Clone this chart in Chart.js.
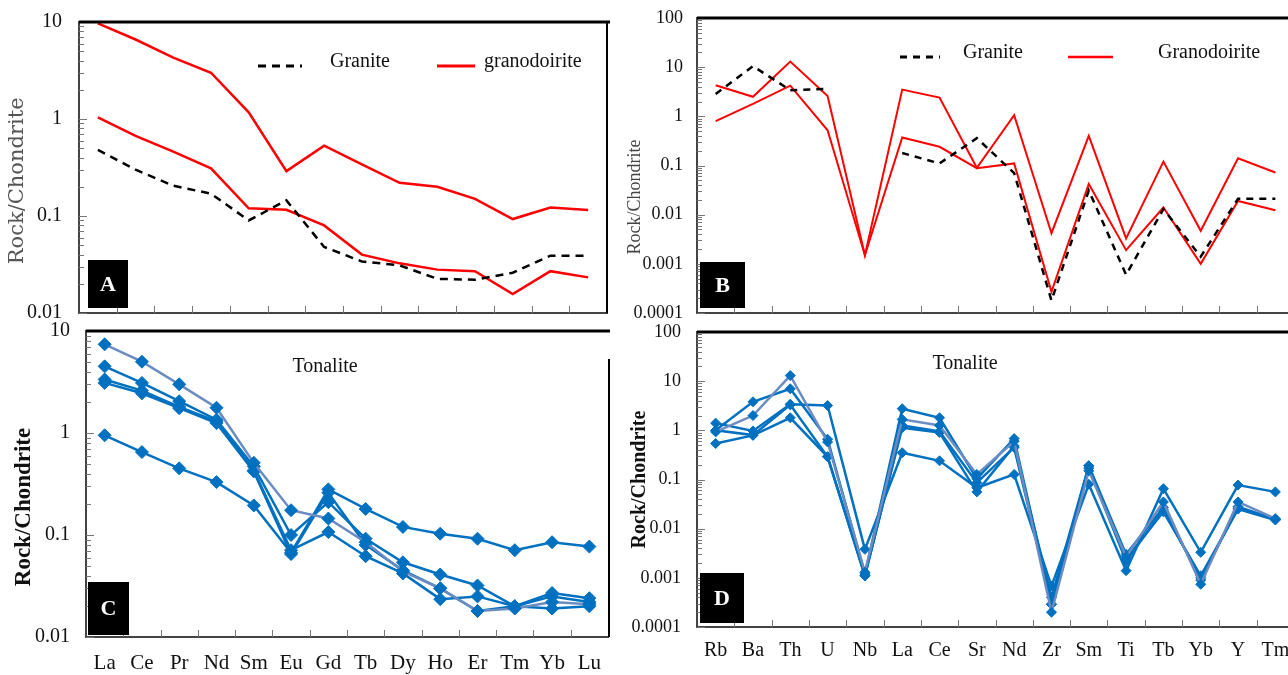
<!DOCTYPE html>
<html>
<head>
<meta charset="utf-8">
<script src="https://cdn.jsdelivr.net/npm/chart.js@4.4.1/dist/chart.umd.min.js"></script>
<style>
  html, body { margin: 0; padding: 0; background: #fff; overflow: hidden; }
  body { width: 1288px; height: 675px; position: relative; }
  .panel { position: absolute; }
</style>
</head>
<body>
<div class="panel" style="left:0;top:0"><canvas id="chartA" width="620" height="330"></canvas></div>
<div class="panel" style="left:620px;top:0"><canvas id="chartB" width="680" height="330"></canvas></div>
<div class="panel" style="left:0;top:320px"><canvas id="chartC" width="620" height="355"></canvas></div>
<div class="panel" style="left:620px;top:320px"><canvas id="chartD" width="680" height="355"></canvas></div>
<script>
// categories
const reeLabels = ['La', 'Ce', 'Pr', 'Nd', 'Sm', 'Eu', 'Gd', 'Tb', 'Dy', 'Ho', 'Er', 'Tm', 'Yb', 'Lu'];
const spiderLabels = ['Rb', 'Ba', 'Th', 'U', 'Nb', 'La', 'Ce', 'Sr', 'Nd', 'Zr', 'Sm', 'Ti', 'Tb', 'Yb', 'Y', 'Tm'];

// tick labels
const yTicksREE = [0.01, 0.1, 1, 10];
const yTicksSpider = [0.0001, 0.001, 0.01, 0.1, 1, 10, 100];

// panel A - granite / granodiorite REE
const graniteA = [0.48, 0.30, 0.205, 0.17, 0.09, 0.145, 0.048, 0.034, 0.031, 0.0225, 0.022, 0.026, 0.039, 0.039];
const granodioriteA1 = [9.7, 6.6, 4.3, 3.0, 1.17, 0.29, 0.53, 0.34, 0.22, 0.20, 0.15, 0.093, 0.122, 0.115];
const granodioriteA2 = [1.04, 0.67, 0.46, 0.31, 0.12, 0.116, 0.08, 0.04, 0.0325, 0.028, 0.027, 0.0157, 0.027, 0.0233];

// panel B - granite / granodiorite spider
const graniteB = [2.85, 10.5, 3.4, 3.6, null, 0.18, 0.11, 0.36, 0.07, 0.00018, 0.031, 0.0006, 0.013, 0.0014, 0.021, 0.021];
const granodioriteB1 = [4.3, 2.5, 13, 2.6, 0.0015, 3.5, 2.4, 0.09, 1.05, 0.0042, 0.40, 0.0033, 0.12, 0.0047, 0.14, 0.072];
const granodioriteB2 = [0.8, 1.8, 4.2, 0.52, 0.0015, 0.37, 0.24, 0.088, 0.11, 0.00027, 0.042, 0.0019, 0.014, 0.001, 0.019, 0.0123];

// panel C - tonalite REE
const tonaliteC1 = [7.4, 5.0, 3.0, 1.77, 0.51, 0.175, 0.145, 0.085, 0.044, 0.03, 0.018, 0.019, 0.022, 0.021];
const tonaliteC2 = [4.5, 3.1, 2.05, 1.35, 0.47, 0.1, 0.21, 0.092, 0.054, 0.041, 0.032, 0.02, 0.027, 0.024];
const tonaliteC3 = [3.35, 2.6, 1.8, 1.3, 0.43, 0.071, 0.107, 0.062, 0.042, 0.0235, 0.025, 0.02, 0.019, 0.02];
const tonaliteC4 = [3.1, 2.45, 1.75, 1.25, 0.42, 0.065, 0.26, 0.08, 0.045, 0.03, 0.018, 0.02, 0.025, 0.022];
const tonaliteC5 = [0.95, 0.65, 0.45, 0.33, 0.195, 0.067, 0.28, 0.18, 0.12, 0.103, 0.092, 0.071, 0.085, 0.077];

// panel D - tonalite spider
const tonaliteD1 = [0.93, 2.0, 13, 0.58, 0.0013, 1.67, 1.26, 0.127, 0.6, 0.0002, 0.15, 0.0027, 0.035, 0.00074, 0.035, 0.016];
const tonaliteD2 = [1.0, 3.8, 7.0, 0.66, 0.0012, 2.75, 1.8, 0.104, 0.68, 0.00029, 0.19, 0.003, 0.027, 0.0009, 0.028, 0.0155];
const tonaliteD3 = [1.4, 0.97, 3.4, 3.2, 0.0038, 0.35, 0.24, 0.068, 0.127, 0.00068, 0.08, 0.0014, 0.065, 0.0033, 0.077, 0.056];
const tonaliteD4 = [0.54, 0.79, 1.8, 0.29, 0.0011, 1.13, 0.9, 0.056, 0.48, 0.0004, 0.19, 0.0024, 0.022, 0.0011, 0.025, 0.015];
const tonaliteD5 = [1.0, 0.8, 3.3, 0.29, 0.0011, 1.26, 0.95, 0.086, 0.45, 0.00029, 0.17, 0.0022, 0.024, 0.001, 0.026, 0.0155];

const SERIF = '"Liberation Serif", "Times New Roman", serif';
const BLUE = '#0070c0';
const GREYBLUE = '#6b8cc2';

// draws the inside tick marks, frame lines, panel letter, note and legend
const panelDecor = {
    id: 'panelDecor',
    afterDraw(chart, args, o) {
        const ctx = chart.ctx;
        const a = chart.chartArea;
        const x = chart.scales.x, y = chart.scales.y;
        const line = (x1, y1, x2, y2) => { ctx.beginPath(); ctx.moveTo(x1, y1); ctx.lineTo(x2, y2); ctx.stroke(); };
        ctx.save();

        // minor / major ticks on the log axis
        ctx.strokeStyle = '#777';
        ctx.lineWidth = 1;
        const lo = Math.round(Math.log10(y.min)), hi = Math.round(Math.log10(y.max));
        for (let e = lo; e < hi; e++) {
            for (let k = 1; k < 10; k++) {
                const py = Math.round(y.getPixelForValue(k * Math.pow(10, e))) + 0.5;
                line(a.left, py, a.left + (k === 1 ? 8 : 5), py);
            }
        }
        // category boundary ticks on the bottom axis
        for (let i = 1; i < x.ticks.length; i++) {
            const px = Math.round((x.getPixelForTick(i - 1) + x.getPixelForTick(i)) / 2) + 0.5;
            line(px, a.bottom, px, a.bottom - 7);
        }

        // frame
        ctx.strokeStyle = '#000';
        ctx.lineWidth = 3;
        line(a.left, a.top, o.topEnd || chart.width, a.top);
        if (o.rightBorder) {
            ctx.lineWidth = 2;
            line(o.rightBorder[0], o.rightBorder[1], o.rightBorder[0], a.bottom);
        }

        // panel letter box
        const b = o.box;
        ctx.fillStyle = '#000';
        ctx.fillRect(a.left + b[0], a.bottom - b[1], b[2], b[3]);
        ctx.fillStyle = '#fff';
        ctx.font = 'bold 22px ' + SERIF;
        ctx.textAlign = 'center';
        ctx.textBaseline = 'middle';
        ctx.fillText(o.letter, a.left + b[0] + b[2] / 2, a.bottom - b[1] + b[3] / 2 + 1);

        ctx.fillStyle = '#111';
        ctx.font = '20px ' + SERIF;
        if (o.note) {
            ctx.fillText(o.note.text, o.note.x, o.note.y);
        }

        // legend
        (o.legend || []).forEach(item => {
            const ds = chart.data.datasets[item.ds];
            ctx.strokeStyle = ds.borderColor;
            ctx.lineWidth = ds.borderWidth + 0.5;
            ctx.setLineDash(ds.borderDash || []);
            line(item.x1, item.y, item.x2, item.y);
            ctx.setLineDash([]);
            ctx.fillStyle = '#111';
            ctx.textAlign = 'left';
            ctx.fillText(item.text, item.tx, item.y - 4);
        });
        ctx.restore();
    }
};

function yAxis(ticks, width, pad, fontSize, title) {
    return {
        type: 'logarithmic',
        min: ticks[0],
        max: ticks[ticks.length - 1],
        afterBuildTicks: s => { s.ticks = ticks.map(v => ({ value: v })); },
        // fixed axis width, and no label overflow padding so the plot box stays put
        afterFit: s => { s.width = width; s.paddingTop = 0; s.paddingBottom = 0; },
        grid: { display: false, drawTicks: false, tickLength: 0 },
        border: { color: '#444', width: 2 },
        ticks: {
            color: '#111',
            padding: pad,
            font: { family: SERIF, size: fontSize },
            callback: v => String(v)
        },
        title: title
    };
}

function xAxis(labels, height, fontSize, pad) {
    return {
        type: 'category',
        labels: labels,
        offset: true,
        afterFit: s => { s.height = height; s.paddingLeft = 0; s.paddingRight = 0; },
        grid: { display: false, drawTicks: false, tickLength: 0 },
        border: { color: '#444', width: 2 },
        ticks: {
            display: fontSize > 0,
            color: '#111',
            padding: pad,
            maxRotation: 0,
            autoSkip: false,
            font: { family: SERIF, size: fontSize || 12 }
        }
    };
}

function redLine(values, width) {
    return { data: values, borderColor: '#ff0000', borderWidth: width, pointRadius: 0, tension: 0 };
}
function dashLine(values, dash) {
    return { data: values, borderColor: '#000', borderWidth: 2.5, borderDash: dash, pointRadius: 0, tension: 0, spanGaps: false };
}
function blueLine(values, color, radius) {
    return {
        data: values, borderColor: color, borderWidth: 2.5, tension: 0,
        pointStyle: 'rectRot', pointRadius: radius, pointBackgroundColor: BLUE, pointBorderColor: BLUE, pointBorderWidth: 1
    };
}

const common = {
    type: 'line',
    plugins: [panelDecor]
};

// trailing spaces nudge the rotated axis title down a little, like the original
let chartA = new Chart(document.getElementById('chartA'), {
    ...common,
    data: {
        labels: reeLabels,
        datasets: [dashLine(graniteA, [8, 6]), redLine(granodioriteA1, 2.5), redLine(granodioriteA2, 2.5)]
    },
    options: {
        responsive: false, animation: false, devicePixelRatio: 1,
        layout: { padding: { top: 22, right: 13, left: 0, bottom: 0 } },
        scales: {
            x: xAxis(reeLabels, 17, 0, 0),
            y: yAxis(yTicksREE, 79, 17, 20, {
                display: true, text: 'Rock/Chondrite    ', color: '#555',
                font: { family: '"DejaVu Serif", serif', size: 21 }, padding: { top: 5, bottom: 0 }
            })
        },
        plugins: {
            legend: { display: false },
            tooltip: { enabled: false },
            panelDecor: {
                topEnd: 610, rightBorder: [607, 22], letter: 'A', box: [9, 53, 40, 48],
                legend: [
                    { ds: 0, x1: 258, x2: 302, y: 66, text: 'Granite', tx: 330 },
                    { ds: 1, x1: 437, x2: 475, y: 66, text: 'granodoirite', tx: 484 }
                ]
            }
        }
    }
});

let chartB = new Chart(document.getElementById('chartB'), {
    ...common,
    data: {
        labels: spiderLabels,
        datasets: [dashLine(graniteB, [7, 6]), redLine(granodioriteB1, 2), redLine(granodioriteB2, 2)]
    },
    options: {
        responsive: false, animation: false, devicePixelRatio: 1,
        layout: { padding: { top: 18, right: 6, left: 0, bottom: 0 } },
        scales: {
            x: xAxis(spiderLabels, 17, 0, 0),
            y: yAxis(yTicksSpider, 77, 14, 18, {
                display: true, text: 'Rock/Chondrite' + ' '.repeat(14), color: '#444',
                font: { family: SERIF, size: 18 }, padding: { top: 4, bottom: 0 }
            })
        },
        plugins: {
            legend: { display: false },
            tooltip: { enabled: false },
            panelDecor: {
                letter: 'B', box: [3, 51, 45, 46],
                legend: [
                    { ds: 0, x1: 280, x2: 320, y: 57, text: 'Granite', tx: 343 },
                    { ds: 1, x1: 448, x2: 493, y: 57, text: 'Granodoirite', tx: 538 }
                ]
            }
        }
    }
});

let chartC = new Chart(document.getElementById('chartC'), {
    ...common,
    data: {
        labels: reeLabels,
        datasets: [
            blueLine(tonaliteC1, GREYBLUE, 6.5),
            blueLine(tonaliteC2, BLUE, 6.5),
            blueLine(tonaliteC3, BLUE, 6.5),
            blueLine(tonaliteC4, BLUE, 6.5),
            blueLine(tonaliteC5, BLUE, 6.5)
        ]
    },
    options: {
        responsive: false, animation: false, devicePixelRatio: 1,
        layout: { padding: { top: 11, right: 12, left: 0, bottom: 0 } },
        scales: {
            x: xAxis(reeLabels, 38, 21, 14),
            y: yAxis(yTicksREE, 86, 16, 20, {
                display: true, text: 'Rock/Chondrite' + ' '.repeat(8), color: '#111',
                font: { family: SERIF, size: 23, weight: 'bold' }, padding: { top: 10, bottom: 0 }
            })
        },
        plugins: {
            legend: { display: false },
            tooltip: { enabled: false },
            panelDecor: {
                topEnd: 610, rightBorder: [609, 39], letter: 'C', box: [2, 55, 41, 53],
                note: { text: 'Tonalite', x: 325, y: 47 }
            }
        }
    }
});

let chartD = new Chart(document.getElementById('chartD'), {
    ...common,
    data: {
        labels: spiderLabels,
        datasets: [
            blueLine(tonaliteD1, GREYBLUE, 5),
            blueLine(tonaliteD2, BLUE, 5),
            blueLine(tonaliteD3, BLUE, 5),
            blueLine(tonaliteD4, BLUE, 5),
            blueLine(tonaliteD5, BLUE, 5)
        ]
    },
    options: {
        responsive: false, animation: false, devicePixelRatio: 1,
        layout: { padding: { top: 12, right: 6, left: 0, bottom: 0 } },
        scales: {
            x: xAxis(spiderLabels, 48, 20, 12),
            y: yAxis(yTicksSpider, 77, 16, 18, {
                display: true, text: 'Rock/Chondrite', color: '#111',
                font: { family: SERIF, size: 20, weight: 'bold' }, padding: { top: 8, bottom: 0 }
            })
        },
        plugins: {
            legend: { display: false },
            tooltip: { enabled: false },
            panelDecor: {
                letter: 'D', box: [3, 54, 44, 50],
                note: { text: 'Tonalite', x: 345, y: 44 }
            }
        }
    }
});
</script>
</body>
</html>
